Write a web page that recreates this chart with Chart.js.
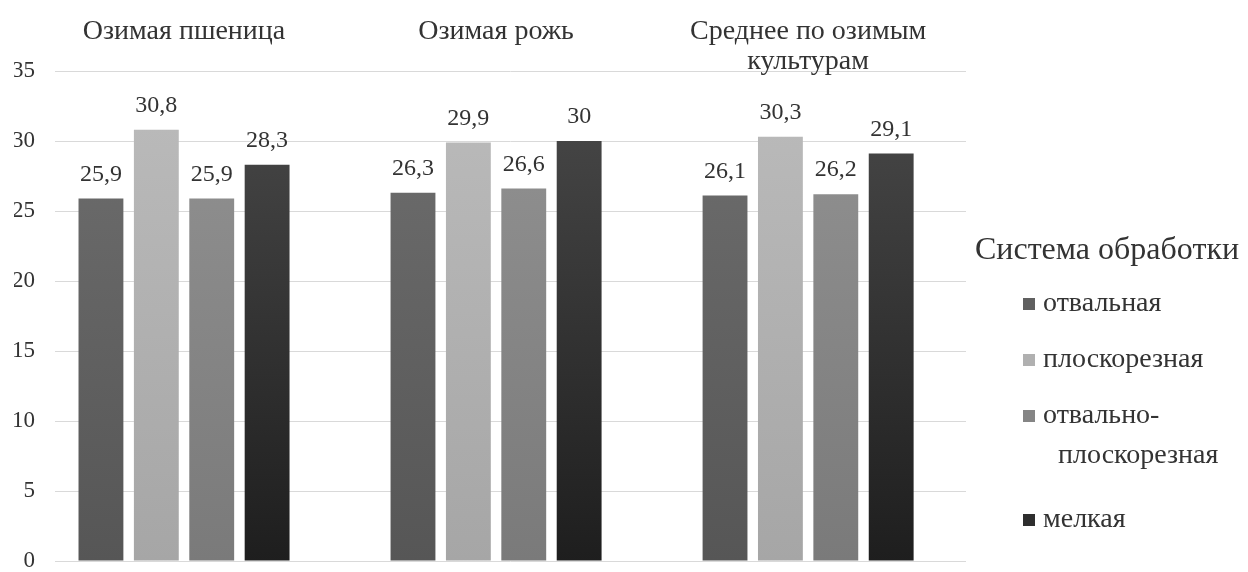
<!DOCTYPE html>
<html>
<head>
<meta charset="utf-8">
<script src="https://cdn.jsdelivr.net/npm/chart.js@4.4.1/dist/chart.umd.min.js"></script>
<style>
  html, body { margin: 0; padding: 0; background: #ffffff; }
  #wrap { width: 1248px; height: 572px; position: relative; }
</style>
</head>
<body>
<div id="wrap"><canvas id="chart"></canvas></div>
<script>
// Crop groups (multi-line names are given as arrays of lines)
const categories = [['Озимая пшеница'], ['Озимая рожь'], ['Среднее по озимым', 'культурам']];
// Tillage systems
const seriesNames = ['отвальная', 'плоскорезная', 'отвально-плоскорезная', 'мелкая'];
// Values per tillage system, one per crop group
const otvalnaya = [25.9, 26.3, 26.1];
const ploskoreznaya = [30.8, 29.9, 30.3];
const otvalnoPloskoreznaya = [25.9, 26.6, 26.2];
const melkaya = [28.3, 30.0, 29.1];
// Value axis ticks
const yTicks = [0, 5, 10, 15, 20, 25, 30, 35];
const legendTitle = 'Система обработки';

const seriesValues = [otvalnaya, ploskoreznaya, otvalnoPloskoreznaya, melkaya];

// Bar shading: lighter at the top, darker at the base
const shadeTop = ['#6c6c6c', '#b9b9b9', '#909090', '#454545'];
const shadeBottom = ['#565656', '#a6a6a6', '#7a7a7a', '#1e1e1e'];
const shadeMid = ['#606060', '#b0b0b0', '#858585', '#2e2e2e'];

const fontFamily = "'Liberation Serif', 'Times New Roman', serif";
const textColor = '#333333';

function fmt(v) {
  return String(v).replace('.', ',');
}

function barFill(index) {
  return (context) => {
    const chart = context.chart;
    const yScale = chart.scales.y;
    if (!chart.chartArea || !yScale) return shadeMid[index];
    const g = chart.ctx.createLinearGradient(0, yScale.getPixelForValue(0), 0, yScale.getPixelForValue(31));
    g.addColorStop(0, shadeBottom[index]);
    g.addColorStop(1, shadeTop[index]);
    return g;
  };
}

const datasets = seriesNames.map((name, s) => ({
  label: name,
  data: seriesValues[s].map((v, i) => ({ x: i, y: v })),
  backgroundColor: barFill(s),
  borderWidth: 0,
  categoryPercentage: 0.71,
  barPercentage: 0.81
}));

// Numbers written above each bar
const valueLabels = {
  id: 'valueLabels',
  afterDatasetsDraw(chart) {
    const ctx = chart.ctx;
    ctx.save();
    ctx.font = '24px ' + fontFamily;
    ctx.fillStyle = textColor;
    ctx.textAlign = 'center';
    ctx.textBaseline = 'middle';
    chart.data.datasets.forEach((ds, di) => {
      chart.getDatasetMeta(di).data.forEach((bar, i) => {
        ctx.fillText(fmt(ds.data[i].y), bar.x, bar.y - 24);
      });
    });
    ctx.restore();
  }
};

// Legend on the right, with a title and wrapped entries
const sideLegend = {
  id: 'sideLegend',
  afterDraw(chart) {
    const ctx = chart.ctx;
    ctx.save();
    ctx.fillStyle = textColor;
    ctx.textBaseline = 'middle';
    ctx.font = '32px ' + fontFamily;
    ctx.textAlign = 'center';
    ctx.fillText(legendTitle, 1107, 251);

    ctx.font = '28px ' + fontFamily;
    ctx.textAlign = 'left';
    let y = 304;
    chart.data.datasets.forEach((ds, i) => {
      const lines = ds.label.split(/(?<=-)/);
      ctx.fillStyle = shadeMid[i];
      ctx.fillRect(1023, y - 6, 12, 12);
      ctx.fillStyle = textColor;
      lines.forEach((line, li) => {
        ctx.fillText(line, li === 0 ? 1043 : 1058, y + li * 40);
      });
      y += 56 + (lines.length - 1) * 48;
    });
    ctx.restore();
  }
};

function build() {
  new Chart(document.getElementById('chart'), {
    type: 'bar',
    data: { datasets },
    options: {
      responsive: true,
      maintainAspectRatio: false,
      animation: false,
      events: [],
      layout: { padding: { top: 5, right: 282, bottom: 11, left: 14 } },
      plugins: {
        legend: { display: false },
        tooltip: { enabled: false }
      },
      scales: {
        x: {
          type: 'linear',
          position: 'top',
          offset: false,
          bounds: 'data',
          min: -0.4135,
          max: 2.506,
          grid: { display: false, drawTicks: false, offset: false },
          border: { display: false },
          afterBuildTicks: (axis) => { axis.ticks = categories.map((_, i) => ({ value: i })); },
          afterFit: (axis) => {
            // fixed band for the group names; let the last line hang below it
            axis.height = 66;
            axis._computeLabelArea = () => null;
          },
          ticks: {
            autoSkip: false,
            maxRotation: 0,
            crossAlign: 'far',
            padding: -6,
            color: textColor,
            font: { family: fontFamily, size: 28, lineHeight: '30px' },
            callback: (value) => categories[value]
          }
        },
        y: {
          min: 0,
          max: 35,
          afterBuildTicks: (axis) => { axis.ticks = yTicks.map(v => ({ value: v })); },
          afterFit: (axis) => {
            axis.width = 41;
            axis.paddingTop = 0;
            axis.paddingBottom = 0;
          },
          grid: { color: '#d9d9d9', lineWidth: 1, drawTicks: false },
          border: { display: false },
          ticks: {
            padding: 20,
            color: textColor,
            font: { family: fontFamily, size: 23 }
          }
        }
      }
    },
    plugins: [valueLabels, sideLegend]
  });
}

if (document.fonts && document.fonts.load) {
  document.fonts.load("24px 'Liberation Serif'", 'Система 0123').then(build, build);
} else {
  build();
}
</script>
</body>
</html>
